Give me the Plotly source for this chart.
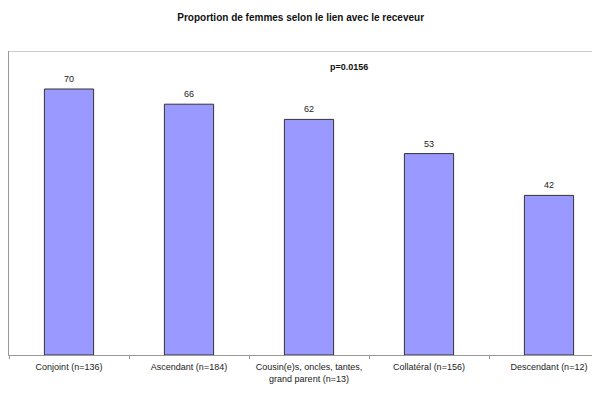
import plotly.graph_objects as go

categories = ["Conjoint (n=136)", "Ascendant (n=184)",
              "Cousin(e)s, oncles, tantes,<br>grand parent (n=13)",
              "Collatéral (n=156)", "Descendant (n=12)"]
values = [70, 66, 62, 53, 42]
y_ticks = [0, 10, 20, 30, 40, 50, 60, 70, 80]
title = "Proportion de femmes selon le lien avec le receveur"
pvalue_text = "p=0.0156"

FONT = "Liberation Sans, Arial, sans-serif"

fig = go.Figure()
fig.add_trace(go.Bar(
    x=categories, y=values,
    marker=dict(color="#9999FF", line=dict(color="#333333", width=1)),
    width=0.41,
    cliponaxis=False,
))

for c, v in zip(categories, values):
    fig.add_annotation(x=c, y=v, xref="x", yref="y", text=str(v), showarrow=False,
                       yanchor="bottom", yshift=3,
                       font=dict(family=FONT, size=9, color="#222222"))

fig.add_annotation(x=0.576, xref="paper", y=75.8, yref="y", text="<b>" + pvalue_text + "</b>",
                   showarrow=False, font=dict(family=FONT, size=9, color="#111111"))

fig.add_shape(type="line", xref="paper", yref="y", x0=0, x1=1, y0=80, y1=80,
              line=dict(color="#999999", width=1))

fig.update_layout(
    width=600, height=398,
    margin=dict(l=1, r=8, t=43, b=51, autoexpand=False),
    paper_bgcolor="white", plot_bgcolor="white",
    showlegend=False,
    title=dict(text="<b>" + title + "</b>", xref="paper", x=0.4935, xanchor="center",
               y=0.975, yanchor="middle",
               font=dict(family=FONT, size=10, color="#111111")),
    xaxis=dict(type="category", range=[-0.5, 4.425], showline=True, linecolor="#999999",
               linewidth=1, ticks="outside", tickson="boundaries", ticklen=3,
               tickcolor="#999999", showgrid=False, automargin=False,
               ticklabelstandoff=3,
               tickfont=dict(family=FONT, size=9, color="#222222")),
    yaxis=dict(range=[0, 80], tickvals=y_ticks, showline=True, linecolor="#999999",
               linewidth=1, ticks="outside", ticklen=3, tickcolor="#999999",
               showgrid=False, zeroline=False, automargin=False,
               showticklabels=False),
    bargap=0.59,
)

fig.write_html("out.html")
